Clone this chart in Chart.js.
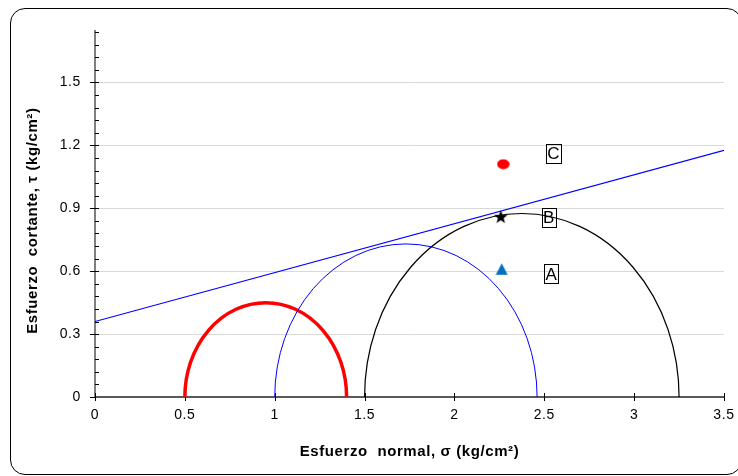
<!DOCTYPE html>
<html>
<head>
<meta charset="utf-8">
<script src="https://cdn.jsdelivr.net/npm/chart.js@4.4.1/dist/chart.umd.min.js"></script>
<style>
  html, body { margin: 0; padding: 0; background: #fff; }
  #wrap { position: relative; width: 738px; height: 476px; overflow: hidden; }
  #frame { position: absolute; left: 10px; top: 8px; width: 732px; height: 467px;
           border: 1.5px solid #000; border-radius: 15px; box-sizing: border-box; }
  canvas { position: absolute; left: 0; top: 0; }
</style>
</head>
<body>
<div id="wrap">
  <div id="frame"></div>
  <canvas id="mohrChart" width="738" height="476"></canvas>
</div>
<script>
// ejes
const xTicks = [0, 0.5, 1, 1.5, 2, 2.5, 3, 3.5];
const yTicks = [0, 0.3, 0.6, 0.9, 1.2, 1.5];
const yMax = 1.75;
const yMinorStep = 0.06;

// círculos de Mohr (sigma3, sigma1)
const sigma3 = [0.5, 1.0, 1.5];
const sigma1 = [1.4, 2.46, 3.25];

// envolvente de falla
const envelopeSigma = [0, 3.5];
const envelopeTau = [0.36, 1.176];

// estados de esfuerzo C, B, A
const stateNames = ['C', 'B', 'A'];
const stateSigma = [2.272, 2.258, 2.263];
const stateTau = [1.11, 0.86, 0.61];

// posición de las etiquetas
const labelSigma = [2.551, 2.525, 2.538];
const labelTau = [1.163, 0.855, 0.587];

const circleStyle = [
  { color: '#ff0000', width: 3.5 },
  { color: '#0000ff', width: 1 },
  { color: '#000000', width: 1.2 }
];

const FONT = "'Liberation Sans', Arial, sans-serif";

// marcadores hechos a mano
function makeMarker(w, h, draw) {
  const c = document.createElement('canvas');
  c.width = w; c.height = h;
  const g = c.getContext('2d');
  draw(g, w, h);
  return c;
}
const dotMarker = makeMarker(13, 11, (g, w, h) => {
  g.fillStyle = '#ff0000';
  g.beginPath(); g.ellipse(w / 2, h / 2, 6.2, 5, 0, 0, Math.PI * 2); g.fill();
});
const starMarker = makeMarker(15, 15, (g, w, h) => {
  g.fillStyle = '#000';
  g.beginPath();
  for (let i = 0; i < 10; i++) {
    const r = i % 2 === 0 ? 7.3 : 3;
    const a = -Math.PI / 2 + i * Math.PI / 5;
    const px = w / 2 + r * Math.cos(a), py = h / 2 + 0.6 + r * Math.sin(a);
    if (i === 0) g.moveTo(px, py); else g.lineTo(px, py);
  }
  g.closePath(); g.fill();
});
const triMarker = makeMarker(13, 12, (g, w, h) => {
  g.fillStyle = '#0070c0';
  g.beginPath(); g.moveTo(w / 2, 0.3); g.lineTo(w - 0.5, h - 0.3); g.lineTo(0.5, h - 0.3); g.closePath(); g.fill();
});
const stateMarkers = [dotMarker, starMarker, triMarker];

// dibuja ejes, marcas, círculos y etiquetas
const mohrPlugin = {
  id: 'mohr',
  beforeDraw(chart) {
    chart.ctx.letterSpacing = '0.6px';
  },
  beforeDatasetsDraw(chart) {
    const { ctx, scales: { x, y } } = chart;
    const x0 = x.getPixelForValue(0), y0 = y.getPixelForValue(0);
    ctx.save();
    // eje y
    ctx.strokeStyle = '#000';
    ctx.lineWidth = 1;
    ctx.beginPath();
    ctx.moveTo(x0, y.getPixelForValue(yMax)); ctx.lineTo(x0, y0);
    for (let i = 1; i * yMinorStep < yMax; i++) {
      const py = Math.round(y.getPixelForValue(i * yMinorStep)) + 0.5;
      ctx.moveTo(x0, py); ctx.lineTo(x0 + 4, py);
    }
    yTicks.forEach(v => {
      const py = Math.round(y.getPixelForValue(v)) + 0.5;
      ctx.moveTo(x0 - 5, py); ctx.lineTo(x0 + 4, py);
    });
    ctx.stroke();
    // eje x
    ctx.strokeStyle = '#595959';
    ctx.lineWidth = 2;
    ctx.beginPath();
    ctx.moveTo(x0, y0); ctx.lineTo(x.getPixelForValue(3.5), y0);
    ctx.stroke();
    ctx.strokeStyle = '#000';
    ctx.lineWidth = 1;
    ctx.beginPath();
    xTicks.forEach(v => {
      const px = Math.round(x.getPixelForValue(v)) + 0.5;
      ctx.moveTo(px, y0 - 4); ctx.lineTo(px, y0 + 4);
    });
    ctx.stroke();
    // semicírculos
    sigma3.forEach((s3, i) => {
      const c = (s3 + sigma1[i]) / 2, r = (sigma1[i] - s3) / 2;
      const cx = x.getPixelForValue(c);
      const rx = x.getPixelForValue(c + r) - cx;
      const ry = y0 - y.getPixelForValue(r);
      ctx.strokeStyle = circleStyle[i].color;
      ctx.lineWidth = circleStyle[i].width;
      ctx.beginPath();
      ctx.ellipse(cx, y0, rx, ry, 0, Math.PI, Math.PI * 2);
      ctx.stroke();
    });
    ctx.restore();
  },
  afterDatasetsDraw(chart) {
    const { ctx, scales: { x, y } } = chart;
    ctx.save();
    ctx.letterSpacing = '0px';
    ctx.font = '17px ' + FONT;
    ctx.textAlign = 'center';
    ctx.textBaseline = 'middle';
    stateNames.forEach((name, i) => {
      const px = x.getPixelForValue(labelSigma[i]);
      const py = y.getPixelForValue(labelTau[i]);
      const w = ctx.measureText(name).width + 3;
      const h = 19;
      ctx.fillStyle = '#000';
      ctx.fillText(name, px, py + 1);
      ctx.strokeStyle = '#000';
      ctx.lineWidth = 1;
      ctx.strokeRect(Math.round(px - w / 2) + 0.5, Math.round(py - h / 2) + 0.5, Math.round(w), h);
    });
    ctx.restore();
  }
};

const datasets = [{
  label: 'Envolvente',
  data: envelopeSigma.map((s, i) => ({ x: s, y: envelopeTau[i] })),
  showLine: true,
  borderColor: '#0000ff',
  borderWidth: 1.2,
  pointRadius: 0
}];
stateNames.forEach((name, i) => {
  datasets.push({
    label: name,
    data: [{ x: stateSigma[i], y: stateTau[i] }],
    pointStyle: stateMarkers[i],
    pointRadius: 6
  });
});

new Chart(document.getElementById('mohrChart'), {
  type: 'scatter',
  data: { datasets: datasets },
  options: {
    responsive: false,
    animation: false,
    devicePixelRatio: 1,
    layout: { padding: { left: 14, right: 14, top: 30, bottom: 6 } },
    plugins: { legend: { display: false }, tooltip: { enabled: false } },
    scales: {
      x: {
        type: 'linear',
        min: 0, max: 3.5,
        afterBuildTicks: s => { s.ticks = xTicks.map(v => ({ value: v })); },
        afterFit: s => { s.height = 476 - 6 - 397; s.paddingLeft = 0; s.paddingRight = 0; },
        grid: { display: false, drawTicks: false },
        border: { display: false },
        ticks: {
          color: '#000', padding: 10, maxRotation: 0,
          font: { family: FONT, size: 14 },
          callback: v => String(v)
        },
        title: {
          display: true,
          text: 'Esfuerzo  normal, σ (kg/cm²)',
          color: '#000',
          font: { family: FONT, size: 15, weight: 'bold' },
          padding: { top: 0, bottom: 9 }
        }
      },
      y: {
        type: 'linear',
        min: 0, max: yMax,
        afterBuildTicks: s => { s.ticks = yTicks.map(v => ({ value: v })); },
        afterFit: s => { s.width = 95 - 14; s.paddingTop = 0; s.paddingBottom = 0; },
        grid: {
          drawTicks: false,
          color: ctx => ctx.tick && ctx.tick.value > 0 ? '#d9d9d9' : 'rgba(0,0,0,0)',
          lineWidth: 1
        },
        border: { display: false },
        ticks: {
          color: '#000', padding: 14,
          font: { family: FONT, size: 14 },
          callback: v => String(v)
        },
        title: {
          display: true,
          text: 'Esfuerzo  cortante, τ (kg/cm²)   ',
          color: '#000',
          font: { family: FONT, size: 15, weight: 'bold' },
          padding: { top: 10, bottom: 0 }
        }
      }
    }
  },
  plugins: [mohrPlugin]
});
</script>
</body>
</html>
